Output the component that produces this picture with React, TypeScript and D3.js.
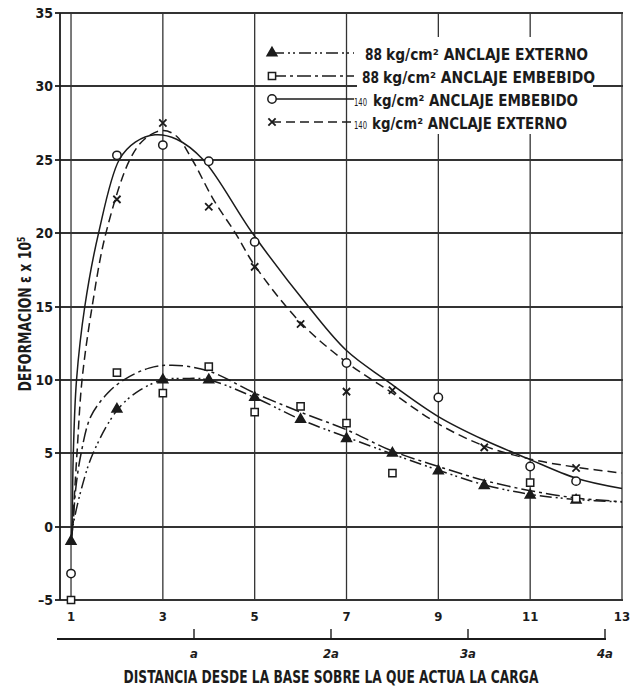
import React, { useEffect, useRef } from 'react';
import * as d3 from 'd3';

const W = 637,
  H = 692;

// axis ticks
const xTicks = [1, 3, 5, 7, 9, 11, 13];
const yTicks = [-5, 0, 5, 10, 15, 20, 25, 30, 35];
const aTicks = [1, 2, 3, 4];
const aLabels = ['a', '2a', '3a', '4a'];

// measured points
const ext88X = [1, 2, 3, 4, 5, 6, 7, 8, 9, 10, 11, 12];
const ext88Y = [-1, 8, 10, 10, 8.8, 7.3, 6, 5, 3.8, 2.8, 2.15, 1.8];
const emb88X = [1, 2, 3, 4, 5, 6, 7, 8, 11, 12];
const emb88Y = [-5, 10.5, 9.1, 10.9, 7.8, 8.2, 7.05, 3.65, 3, 1.9];
const emb140X = [1, 2, 3, 4, 5, 7, 9, 11, 12];
const emb140Y = [-3.2, 25.3, 26, 24.9, 19.4, 11.15, 8.8, 4.1, 3.1];
const ext140X = [2, 3, 4, 5, 6, 7, 8, 10, 12];
const ext140Y = [22.3, 27.5, 21.8, 17.7, 13.8, 9.2, 9.3, 5.4, 4.0];

// hand drawn fitted curves
const ext88CurveX = [1, 1.04, 1.22, 1.48, 2.02, 2.5, 3, 3.5, 4, 5, 6, 7, 8, 9, 10, 11, 12, 13];
const ext88CurveY = [-1, 0, 2.5, 5, 8, 9.3, 10, 10.1, 10, 8.8, 7.3, 6.1, 4.95, 3.85, 2.85, 2.2, 1.85, 1.68];
const emb88CurveX = [1, 1.04, 1.1, 1.22, 1.43, 1.8, 2.15, 2.7, 3.2, 4, 5, 6, 7, 8, 9, 10, 11, 12, 13];
const emb88CurveY = [-1, 0, 2.5, 5, 7.5, 9.1, 10, 10.8, 11, 10.6, 9.1, 7.8, 6.6, 5.15, 4.1, 3.15, 2.45, 1.95, 1.7];
const emb140CurveX = [1, 1.02, 1.05, 1.12, 1.3, 1.6, 2.05, 2.4, 2.83, 3.3, 3.88, 4.95, 6.17, 7, 7.85, 9, 10, 10.9, 12, 13];
const emb140CurveY = [-1, 0, 5, 10, 15, 20, 25, 26.2, 26.7, 26.4, 25, 20, 15, 12, 10, 7.5, 5.9, 4.7, 3.3, 2.6];
const ext140CurveX = [1, 1.03, 1.13, 1.24, 1.46, 1.76, 2.28, 2.6, 3, 3.3, 3.64, 4.1, 4.58, 5, 6, 7, 8, 9, 10, 11, 12, 13];
const ext140CurveY = [-1, 0, 5, 10, 15, 20, 25, 26.4, 27, 26.6, 25, 22.3, 20, 17.8, 13.9, 11.2, 9.1, 7.0, 5.5, 4.6, 4.05, 3.65];

const legendPre = ['88', '88', '140', '140'];
const legendText = ['kg/cm² ANCLAJE EXTERNO', 'kg/cm² ANCLAJE EMBEBIDO', 'kg/cm² ANCLAJE EMBEBIDO', 'kg/cm² ANCLAJE EXTERNO'];

const yTitle = 'DEFORMACION ε x 10⁵';
const xTitle = 'DISTANCIA DESDE LA BASE SOBRE LA QUE ACTUA LA CARGA';

const ink = '#1b1b1b';
const gridInk = '#333';
const font = "'DejaVu Sans Condensed', 'Liberation Sans Narrow', 'DejaVu Sans', sans-serif";

export default function App() {
  const ref = useRef<SVGSVGElement>(null);

  useEffect(() => {
    const svg = d3.select(ref.current);
    svg.selectAll('*').remove();

    const x = d3.scaleLinear().domain([0.76, 13]).range([60, 622]);
    const y = d3.scaleLinear().domain([-5, 35]).range([600, 13]);
    const aScale = d3.scaleLinear().domain([0, 4]).range([57, 605]);

    const series = [
      { xs: ext88X, ys: ext88Y, cx: ext88CurveX, cy: ext88CurveY, dash: '12,4,2,3,2,4', sym: 'tri' },
      { xs: emb88X, ys: emb88Y, cx: emb88CurveX, cy: emb88CurveY, dash: '14,4,3,4', sym: 'sq' },
      { xs: emb140X, ys: emb140Y, cx: emb140CurveX, cy: emb140CurveY, dash: null, sym: 'circ' },
      { xs: ext140X, ys: ext140Y, cx: ext140CurveX, cy: ext140CurveY, dash: '9,5', sym: 'x' }
    ];

    svg.append('rect').attr('width', W).attr('height', H).attr('fill', '#fff');

    // grid
    const grid = svg.append('g');
    yTicks.forEach(d => {
      const py = Math.round(y(d));
      grid
        .append('line')
        .attr('x1', 55)
        .attr('x2', x(13) + 1)
        .attr('y1', py)
        .attr('y2', py)
        .attr('stroke', gridInk)
        .attr('stroke-width', 1.8);
    });
    xTicks.forEach(d => {
      grid
        .append('line')
        .attr('x1', x(d))
        .attr('x2', x(d))
        .attr('y1', y(35))
        .attr('y2', y(-5))
        .attr('stroke', gridInk)
        .attr('stroke-width', 1.3);
    });
    grid
      .append('line')
      .attr('x1', x(0.76))
      .attr('x2', x(0.76))
      .attr('y1', y(35))
      .attr('y2', y(-5))
      .attr('stroke', ink)
      .attr('stroke-width', 1.8);

    // tick labels
    svg
      .append('g')
      .selectAll('text')
      .data(yTicks)
      .enter()
      .append('text')
      .attr('x', 53)
      .attr('y', d => y(d) + 5)
      .attr('text-anchor', 'end')
      .style('font-family', font)
      .style('font-weight', 'bold')
      .style('font-size', '14px')
      .attr('fill', ink)
      .text(d => (d < 0 ? '–' + Math.abs(d) : d));

    svg
      .append('g')
      .selectAll('text')
      .data(xTicks)
      .enter()
      .append('text')
      .attr('x', d => x(d))
      .attr('y', 621)
      .attr('text-anchor', 'middle')
      .style('font-family', font)
      .style('font-weight', 'bold')
      .style('font-size', '13px')
      .attr('fill', ink)
      .text(d => d);

    // second scale in multiples of a
    const aAxis = svg.append('g');
    aAxis
      .append('line')
      .attr('x1', aScale(0))
      .attr('x2', aScale(4) + 1)
      .attr('y1', 639)
      .attr('y2', 639)
      .attr('stroke', ink)
      .attr('stroke-width', 1.8);
    aAxis
      .selectAll('line.t')
      .data(aTicks)
      .enter()
      .append('line')
      .attr('class', 't')
      .attr('x1', d => aScale(d))
      .attr('x2', d => aScale(d))
      .attr('y1', 629)
      .attr('y2', 639)
      .attr('stroke', ink)
      .attr('stroke-width', 1.4);
    svg
      .append('g')
      .selectAll('text')
      .data(aTicks)
      .enter()
      .append('text')
      .attr('x', d => aScale(d))
      .attr('y', 658)
      .attr('text-anchor', 'middle')
      .style('font-family', font)
      .style('font-weight', 'bold')
      .style('font-style', 'italic')
      .style('font-size', '13px')
      .attr('fill', ink)
      .text((d, i) => aLabels[i]);

    // titles (x title squeezed horizontally to the lettering width)
    const xt = svg
      .append('text')
      .attr('x', 0)
      .attr('y', 0)
      .attr('text-anchor', 'middle')
      .style('font-family', font)
      .style('font-weight', 'bold')
      .style('font-size', '17px')
      .attr('fill', ink)
      .text(xTitle);
    const natural = (xt.node() as SVGTextElement).getComputedTextLength() || 415;
    xt.attr('transform', `translate(331,683) scale(${415 / natural},1)`);

    svg
      .append('text')
      .attr('transform', 'translate(31,314) rotate(-90)')
      .attr('text-anchor', 'middle')
      .attr('textLength', 155)
      .attr('lengthAdjust', 'spacingAndGlyphs')
      .style('font-family', font)
      .style('font-weight', 'bold')
      .style('font-size', '18px')
      .attr('fill', ink)
      .text(yTitle);

    // curves
    const line = d3
      .line<number[]>()
      .curve(d3.curveCatmullRom.alpha(0.5))
      .x(d => d[0])
      .y(d => d[1]);

    const markerPath = (sym: string) => {
      if (sym === 'tri') return d3.symbol(d3.symbolTriangle, 42)();
      if (sym === 'sq') return d3.symbol(d3.symbolSquare, 52)();
      if (sym === 'circ') return d3.symbol(d3.symbolCircle, 55)();
      return d3.symbol(d3.symbolTimes, 36)();
    };
    const drawMarker = (g, sym: string, px: number, py: number) => {
      g.append('path')
        .attr('d', markerPath(sym))
        .attr('transform', `translate(${px},${py})`)
        .attr('fill', sym === 'tri' ? ink : sym === 'x' ? 'none' : '#fff')
        .attr('stroke', ink)
        .attr('stroke-width', sym === 'x' ? 1.8 : 1.5);
    };

    series.forEach(s => {
      const pts = s.cx.map((v, i) => [x(v), y(s.cy[i])]);
      svg
        .append('path')
        .attr('d', line(pts))
        .attr('fill', 'none')
        .attr('stroke', ink)
        .attr('stroke-width', 1.5)
        .attr('stroke-dasharray', s.dash);
    });
    series.forEach(s => {
      const g = svg.append('g');
      s.xs.forEach((v, i) => drawMarker(g, s.sym, x(v), y(s.ys[i])));
    });

    // legend
    const leg = svg.append('g');
    leg
      .append('rect')
      .attr('x', 357)
      .attr('y', 37)
      .attr('width', 236)
      .attr('height', 97)
      .attr('fill', '#fff');
    const preX = [365, 362, 354, 354];
    const preW = [17, 17, 13, 13];
    const txtX = [386, 383, 373, 372];
    const txtEnd = [588, 595, 578, 567];
    series.forEach((s, i) => {
      const ry = 53 + i * 23;
      leg
        .append('path')
        .attr('d', `M272,${ry}H354`)
        .attr('stroke', ink)
        .attr('stroke-width', 1.5)
        .attr('stroke-dasharray', s.dash);
      drawMarker(leg, s.sym, 272, ry);
      const small = legendPre[i].length > 2;
      leg
        .append('text')
        .attr('x', preX[i])
        .attr('y', ry + 7)
        .attr('textLength', preW[i])
        .attr('lengthAdjust', 'spacingAndGlyphs')
        .style('font-family', font)
        .style('font-weight', small ? 'normal' : 'bold')
        .style('font-size', small ? '11px' : '16px')
        .attr('fill', ink)
        .text(legendPre[i]);
      leg
        .append('text')
        .attr('x', txtX[i])
        .attr('y', ry + 7)
        .attr('textLength', txtEnd[i] - txtX[i])
        .attr('lengthAdjust', 'spacingAndGlyphs')
        .style('font-family', font)
        .style('font-weight', 'bold')
        .style('font-size', '16px')
        .attr('fill', ink)
        .text(legendText[i]);
    });
  }, []);

  return <svg ref={ref} width={W} height={H} style={{ position: 'absolute', left: 0, top: 0 }} />;
}
